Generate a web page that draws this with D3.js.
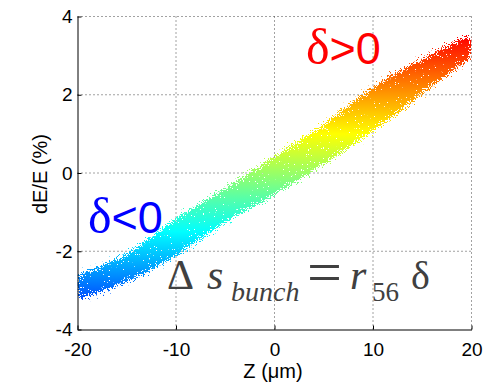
<!DOCTYPE html>
<html lang="en">
<head>
<meta charset="UTF-8">
<title>Bunch chirp</title>
<script src="https://d3js.org/d3.v7.min.js"></script>
<style>
  body { margin: 0; background: #fff; }
  svg text { font-family: "Liberation Sans", Arial, sans-serif; }
</style>
</head>
<body>
<svg id="chart"></svg>
<script>
// ticks
const zTicks = [-20, -10, 0, 10, 20];
const eTicks = [-4, -2, 0, 2, 4];

// particle cloud edges (Z in um, dE/E in %)
const bandZ      = [-20, -15, -10, -5, 0, 5, 10, 15, 20];
const bandTop    = [-2.6, -2.05, -1.15, -0.38, 0.43, 1.25, 2.2, 2.92, 3.55];
const bandBottom = [-3.25, -2.78, -2.12, -1.28, -0.56, 0.22, 1.06, 2.02, 2.95];

// jet colour map, coloured by energy
const jetLevels = [-4, -1.5, 1, 3.5];
const jetColors = ["#0000ff", "#00ffff", "#ffff00", "#ff0000"];

const width = 483, height = 383;

const svg = d3.select("#chart")
    .attr("width", width)
    .attr("height", height);

const x = d3.scaleLinear().domain([-20, 20]).range([77.5, 471.5]);
const y = d3.scaleLinear().domain([-4, 4]).range([329.5, 16.5]);

const defs = svg.append("defs");

const grad = defs.append("linearGradient")
    .attr("id", "jet")
    .attr("gradientUnits", "userSpaceOnUse")
    .attr("x1", 0).attr("x2", 0)
    .attr("y1", y(jetLevels[0]))
    .attr("y2", y(jetLevels[jetLevels.length - 1]));
grad.selectAll("stop")
    .data(jetLevels)
    .join("stop")
    .attr("offset", d => (d - jetLevels[0]) / (jetLevels[jetLevels.length - 1] - jetLevels[0]))
    .attr("stop-color", (d, i) => jetColors[i]);

// grainy edge so the band reads like a cloud of dots
const f = defs.append("filter")
    .attr("id", "speckle")
    .attr("color-interpolation-filters", "sRGB")
    .attr("x", "-10%").attr("y", "-10%")
    .attr("width", "120%").attr("height", "120%");
f.append("feGaussianBlur").attr("in", "SourceAlpha").attr("stdDeviation", 3).attr("result", "soft");
f.append("feTurbulence").attr("type", "fractalNoise").attr("baseFrequency", 0.85)
    .attr("numOctaves", 2).attr("seed", 5).attr("result", "noise");
f.append("feColorMatrix").attr("in", "noise").attr("type", "matrix")
    .attr("values", "0 0 0 0 0  0 0 0 0 0  0 0 0 0 0  1.8 0 0 0 -0.4")
    .attr("result", "grain");
f.append("feComposite").attr("in", "soft").attr("in2", "grain")
    .attr("operator", "arithmetic")
    .attr("k2", 1).attr("k3", 1).attr("k4", -1)
    .attr("result", "sum");
f.append("feComponentTransfer").attr("in", "sum").attr("result", "dots")
    .append("feFuncA").attr("type", "linear").attr("slope", 25).attr("intercept", -1);
f.append("feFlood").attr("flood-color", "#fff").attr("result", "white");
f.append("feComposite").attr("in", "white").attr("in2", "dots").attr("operator", "in");

const band = bandZ.map((z, i) => ({ z: z, top: bandTop[i], bottom: bandBottom[i] }));

const area = d3.area()
    .x(d => x(d.z))
    .y0(d => y(d.bottom))
    .y1(d => y(d.top))
    .curve(d3.curveMonotoneX);

defs.append("mask")
    .attr("id", "bandMask")
    .attr("maskUnits", "userSpaceOnUse")
    .attr("x", 0).attr("y", 0).attr("width", width).attr("height", height)
    .append("path")
    .datum(band)
    .attr("d", area)
    .attr("fill", "#fff")
    .attr("filter", "url(#speckle)");

defs.append("clipPath").attr("id", "plotClip")
    .append("rect")
    .attr("x", x(-20)).attr("y", y(4))
    .attr("width", x(20) - x(-20)).attr("height", y(-4) - y(4));

// grid
const grid = svg.append("g")
    .attr("stroke", "#444")
    .attr("stroke-width", 1)
    .attr("stroke-dasharray", "1,3");
grid.selectAll("line.v")
    .data(zTicks.slice(1))
    .join("line")
    .attr("x1", d => x(d)).attr("x2", d => x(d))
    .attr("y1", y(-4)).attr("y2", y(4));
grid.selectAll("line.h")
    .data(eTicks.slice(1))
    .join("line")
    .attr("y1", d => y(d)).attr("y2", d => y(d))
    .attr("x1", x(-20)).attr("x2", x(20));

// the particle band
svg.append("g")
    .attr("clip-path", "url(#plotClip)")
    .append("rect")
    .attr("x", x(-20)).attr("y", y(4))
    .attr("width", x(20) - x(-20)).attr("height", y(-4) - y(4))
    .attr("fill", "url(#jet)")
    .attr("mask", "url(#bandMask)");

// axes (plain hyphen minus like the original)
const plain = d => String(d);
const xAxis = svg.append("g")
    .attr("transform", `translate(0,${y(-4)})`)
    .call(d3.axisBottom(x).tickValues(zTicks).tickFormat(plain)
        .tickSizeInner(-4).tickSizeOuter(0).tickPadding(13));
const yAxis = svg.append("g")
    .attr("transform", `translate(${x(-20)},0)`)
    .call(d3.axisLeft(y).tickValues(eTicks).tickFormat(plain)
        .tickSizeInner(-4).tickSizeOuter(0).tickPadding(5));
[xAxis, yAxis].forEach(a => {
    a.attr("font-family", "Liberation Sans, Arial, sans-serif").attr("font-size", 19);
    a.selectAll("text").attr("fill", "#000");
});

svg.append("text")
    .attr("x", 273).attr("y", 378)
    .attr("text-anchor", "middle")
    .attr("font-size", 20)
    .text("Z (μm)");

svg.append("text")
    .attr("transform", "translate(47,174) rotate(-90)")
    .attr("text-anchor", "middle")
    .attr("font-size", 20)
    .text("dE/E (%)");

// annotations
const pos = svg.append("text")
    .attr("x", 306).attr("y", 64)
    .attr("font-size", 45)
    .attr("fill", "#ff0000");
pos.append("tspan").style("font-family", "'Liberation Serif', serif").attr("font-size", 50).text("δ");
pos.append("tspan").text(">0");

const neg = svg.append("text")
    .attr("x", 88).attr("y", 233)
    .attr("font-size", 45)
    .attr("fill", "#0000ff");
neg.append("tspan").style("font-family", "'Liberation Serif', serif").attr("font-size", 50).text("δ");
neg.append("tspan").text("<0");

const eq = svg.append("g")
    .attr("fill", "#404040");
const serif = "'Liberation Serif', 'Times New Roman', serif";
eq.append("text").attr("x", 167).attr("y", 289).attr("font-size", 42)
    .style("font-family", serif).text("Δ");
eq.append("text").attr("x", 207).attr("y", 289).attr("font-size", 42)
    .attr("font-style", "italic").style("font-family", serif).text("s");
eq.append("text").attr("x", 231).attr("y", 301).attr("font-size", 28)
    .attr("font-style", "italic").style("font-family", serif).text("bunch");
eq.append("text").attr("x", 307).attr("y", 293).attr("font-size", 62)
    .style("font-family", serif).text("=");
eq.append("text").attr("x", 350).attr("y", 289).attr("font-size", 42)
    .attr("font-style", "italic").style("font-family", serif).text("r");
eq.append("text").attr("x", 372).attr("y", 301).attr("font-size", 27)
    .style("font-family", serif).text("56");
eq.append("text").attr("x", 411).attr("y", 289).attr("font-size", 40)
    .style("font-family", serif).text("δ");
</script>
</body>
</html>
